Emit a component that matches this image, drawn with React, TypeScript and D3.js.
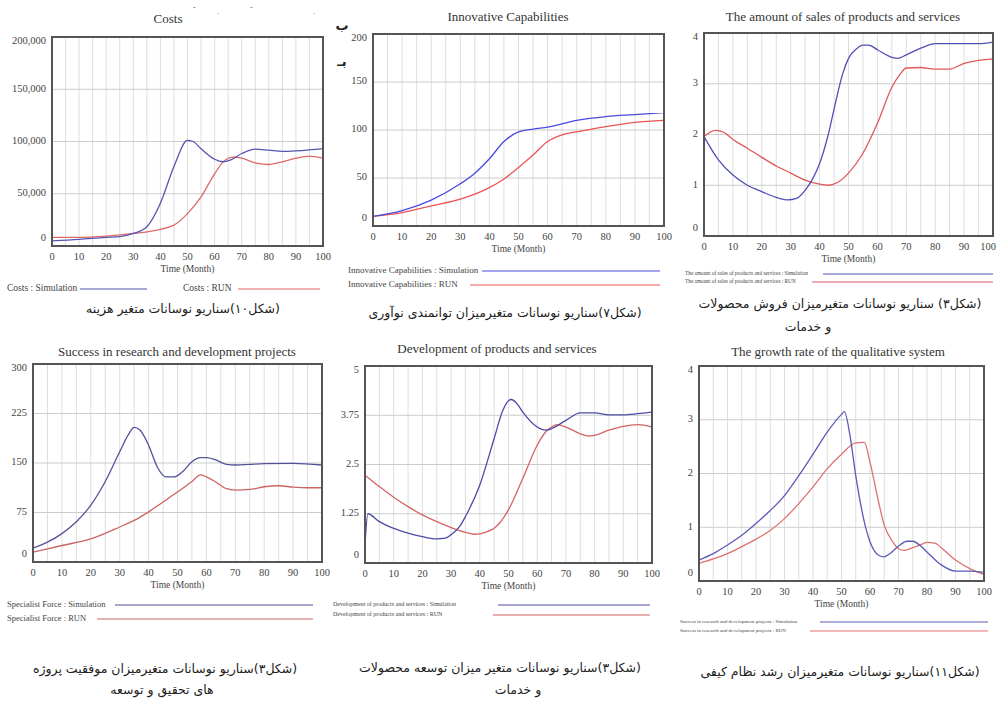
import * as d3 from 'd3';

type Pt = [number, number];

// ---- data (month, value) ----
const monthTicks = [0, 10, 20, 30, 40, 50, 60, 70, 80, 90, 100];

const costsTicks = [0, 50000, 100000, 150000, 200000];
const costsSim: Pt[] = [[0, 5000], [10, 6400], [20, 8300], [25, 9000], [30, 12000], [35, 18500], [40, 41000], [45, 76000], [50, 101000], [52, 100000], [55, 93000], [60, 83000], [63, 80600], [66, 82500], [70, 88500], [75, 92700], [80, 91700], [85, 90500], [90, 91000], [95, 92000], [100, 93300]];
const costsRun: Pt[] = [[0, 8300], [10, 8300], [20, 9500], [30, 12000], [40, 16000], [45, 20000], [50, 31000], [55, 47000], [60, 69000], [63, 80000], [67, 85000], [70, 84000], [75, 79600], [80, 78000], [85, 80500], [90, 84000], [95, 86000], [100, 84000]];

const innovTicks = [0, 50, 100, 150, 200];
const innovSim: Pt[] = [[0, 10], [10, 16], [20, 27], [30, 44], [35, 55], [40, 70], [45, 88], [50, 98], [55, 101], [60, 103], [70, 110], [80, 114], [90, 116], [100, 118]];
const innovRun: Pt[] = [[0, 10], [10, 14], [20, 21], [30, 28], [40, 40], [45, 49], [50, 61], [55, 74], [60, 88], [65, 95], [70, 98], [80, 103.5], [90, 108], [100, 110]];

const salesTicks = [0, 1, 2, 3, 4];
const salesSim: Pt[] = [[0, 1.96], [5, 1.5], [10, 1.2], [15, 1.0], [20, 0.875], [25, 0.76], [29, 0.71], [32, 0.74], [35, 0.9], [38, 1.17], [40, 1.43], [43, 2.0], [45, 2.5], [48, 3.2], [50, 3.5], [53, 3.7], [55, 3.76], [57, 3.76], [60, 3.67], [65, 3.52], [67, 3.5], [70, 3.57], [75, 3.7], [80, 3.79], [90, 3.79], [95, 3.79], [100, 3.82]];
const salesRun: Pt[] = [[0, 1.96], [4, 2.08], [7, 2.04], [10, 1.9], [15, 1.73], [20, 1.55], [25, 1.38], [30, 1.24], [35, 1.1], [40, 1.02], [43, 1.0], [46, 1.05], [50, 1.24], [55, 1.63], [60, 2.22], [65, 2.93], [68, 3.2], [70, 3.31], [75, 3.32], [80, 3.29], [85, 3.29], [90, 3.4], [95, 3.46], [100, 3.49]];

const successTicks = [0, 75, 150, 225, 300];
const successSim: Pt[] = [[0, 21], [5, 30], [10, 43], [15, 61], [20, 86], [25, 122], [30, 167], [33, 193], [35, 204], [37, 200], [40, 177], [43, 144], [46, 129], [49, 129], [52, 138], [55, 152], [58, 158], [60, 158], [63, 155], [67, 148], [70, 147], [75, 148], [80, 149], [90, 149.5], [100, 147]];
const successRun: Pt[] = [[0, 15], [10, 25], [20, 35], [30, 53], [35, 63], [40, 76], [45, 91], [50, 106], [55, 122], [58, 132], [60, 129], [63, 122], [67, 111], [70, 109], [75, 110], [80, 114], [85, 115.5], [90, 113.5], [95, 112.5], [100, 112.5]];

const devTicks = [0, 1.25, 2.5, 3.75, 5];
const devSim: Pt[] = [[0, 0.45], [1, 1.25], [5, 1.05], [10, 0.88], [15, 0.76], [20, 0.67], [25, 0.61], [28, 0.63], [30, 0.72], [33, 0.93], [35, 1.18], [40, 1.98], [45, 3.16], [48, 3.87], [50, 4.12], [51, 4.15], [53, 4.04], [55, 3.83], [60, 3.45], [63, 3.37], [65, 3.41], [70, 3.62], [75, 3.81], [80, 3.81], [85, 3.76], [90, 3.76], [95, 3.79], [100, 3.83]];
const devRun: Pt[] = [[0, 2.23], [5, 1.94], [10, 1.67], [15, 1.43], [20, 1.22], [25, 1.05], [30, 0.9], [35, 0.78], [38, 0.73], [42, 0.78], [45, 0.88], [50, 1.35], [55, 2.15], [60, 2.99], [63, 3.33], [65, 3.45], [67, 3.51], [70, 3.45], [75, 3.28], [78, 3.22], [80, 3.24], [85, 3.37], [90, 3.47], [95, 3.51], [100, 3.45]];

const growthTicks = [0, 1, 2, 3, 4];
const growthSim: Pt[] = [[0, 0.39], [5, 0.51], [10, 0.67], [15, 0.85], [20, 1.07], [25, 1.31], [30, 1.59], [35, 1.96], [40, 2.36], [45, 2.77], [50, 3.1], [51, 3.15], [53, 2.7], [55, 1.96], [58, 1.1], [60, 0.73], [63, 0.48], [65, 0.45], [67, 0.51], [70, 0.65], [73, 0.74], [75, 0.74], [78, 0.64], [80, 0.54], [85, 0.3], [90, 0.185], [95, 0.185], [100, 0.16]];
const growthRun: Pt[] = [[0, 0.33], [5, 0.41], [10, 0.51], [15, 0.64], [20, 0.78], [25, 0.94], [30, 1.16], [35, 1.44], [40, 1.75], [45, 2.09], [50, 2.36], [55, 2.57], [58, 2.58], [60, 2.21], [63, 1.47], [65, 1.04], [68, 0.73], [70, 0.6], [72, 0.57], [75, 0.62], [78, 0.68], [80, 0.72], [83, 0.7], [85, 0.62], [90, 0.39], [95, 0.23], [100, 0.12]];

// ---- panel layout ----
interface Legend { text: string; x: number; y: number; x1: number; x2: number; run: boolean }
interface Caption { text: string; x: number; y: number }
interface PanelCfg {
  title: string; titleX: number; titleY: number;
  left: number; top: number; right: number; bottom: number;
  yMax: number; yTicks: number[]; fmt: (v: number) => string;
  sim: Pt[]; run: Pt[]; blue: string; red: string;
  legendSize: number; legends: Legend[]; captions: Caption[];
}

const W = 997;
const H = 703;
const fmtComma = d3.format(',');
const fmtPlain = (v: number) => String(v);

const panels: PanelCfg[] = [
  {
    title: 'Costs', titleX: 168, titleY: 20, left: 52, top: 37, right: 323, bottom: 246,
    yMax: 200000, yTicks: costsTicks, fmt: fmtComma, sim: costsSim, run: costsRun,
    blue: '#5656b0', red: '#dd6a6a', legendSize: 9.5,
    legends: [
      { text: 'Costs : Simulation', x: 7, y: 289, x1: 80, x2: 147, run: false },
      { text: 'Costs : RUN', x: 183, y: 289, x1: 238, x2: 320, run: true },
    ],
    captions: [{ text: '(شکل۱۰)سناریو نوسانات متغیر  هزینه', x: 183, y: 309 }],
  },
  {
    title: 'Innovative Capabilities', titleX: 508, titleY: 18, left: 373, top: 34, right: 664, bottom: 226,
    yMax: 200, yTicks: innovTicks, fmt: fmtPlain, sim: innovSim, run: innovRun,
    blue: '#4a4ae0', red: '#ec5454', legendSize: 9,
    legends: [
      { text: 'Innovative Capabilities : Simulation', x: 348, y: 271, x1: 482, x2: 660, run: false },
      { text: 'Innovative Capabilities : RUN', x: 348, y: 285, x1: 470, x2: 660, run: true },
    ],
    captions: [{ text: '(شکل۷)سناریو نوسانات متغیرمیزان توانمندی نوآوری', x: 505, y: 313 }],
  },
  {
    title: 'The amount of sales of products and services', titleX: 843, titleY: 18, left: 704, top: 33, right: 993, bottom: 236,
    yMax: 4, yTicks: salesTicks, fmt: fmtPlain, sim: salesSim, run: salesRun,
    blue: '#5050b8', red: '#e05858', legendSize: 5.3,
    legends: [
      { text: 'The amount of sales of products and services : Simulation', x: 685, y: 274, x1: 823, x2: 993, run: false },
      { text: 'The amount of sales of products and services : RUN', x: 685, y: 282, x1: 812, x2: 993, run: true },
    ],
    captions: [
      { text: '(شکل۳) سناریو نوسانات متغیرمیزان فروش محصولات', x: 840, y: 304 },
      { text: 'و خدمات', x: 808, y: 327 },
    ],
  },
  {
    title: 'Success in research and development projects', titleX: 177, titleY: 353, left: 33, top: 364, right: 322, bottom: 562,
    yMax: 300, yTicks: successTicks, fmt: fmtPlain, sim: successSim, run: successRun,
    blue: '#52529a', red: '#cc6464', legendSize: 8.5,
    legends: [
      { text: 'Specialist Force : Simulation', x: 7, y: 605, x1: 115, x2: 313, run: false },
      { text: 'Specialist Force : RUN', x: 7, y: 619, x1: 97, x2: 313, run: true },
    ],
    captions: [
      { text: '(شکل۳)سناریو نوسانات متغیرمیزان موفقیت پروژه', x: 165, y: 669 },
      { text: 'های تحقیق و توسعه', x: 162, y: 690 },
    ],
  },
  {
    title: 'Development of products and services', titleX: 497, titleY: 350, left: 365, top: 366, right: 652, bottom: 563,
    yMax: 5, yTicks: devTicks, fmt: fmtPlain, sim: devSim, run: devRun,
    blue: '#4c4ca8', red: '#d26464', legendSize: 6,
    legends: [
      { text: 'Development of products and services : Simulation', x: 333, y: 605, x1: 498, x2: 650, run: false },
      { text: 'Development of products and services : RUN', x: 333, y: 615, x1: 493, x2: 650, run: true },
    ],
    captions: [
      { text: '(شکل۳)سناریو نوسانات متغیر میزان توسعه محصولات', x: 500, y: 668 },
      { text: 'و خدمات', x: 518, y: 690 },
    ],
  },
  {
    title: 'The growth rate of the qualitative system', titleX: 838, titleY: 353, left: 699, top: 366, right: 984, bottom: 581,
    yMax: 4, yTicks: growthTicks, fmt: fmtPlain, sim: growthSim, run: growthRun,
    blue: '#5a5ab8', red: '#e07070', legendSize: 5,
    legends: [
      { text: 'Success in research and development projects : Simulation', x: 680, y: 622, x1: 820, x2: 988, run: false },
      { text: 'Success in research and development projects : RUN', x: 680, y: 631, x1: 810, x2: 988, run: true },
    ],
    captions: [{ text: '(شکل۱۱)سناریو نوسانات متغیرمیزان رشد نظام کیفی', x: 840, y: 672 }],
  },
];

const serif = '"Liberation Serif", "DejaVu Serif", serif';
const persian = '"DejaVu Sans", "Noto Sans", sans-serif';

function Panel({ p }: { p: PanelCfg }) {
  const x = d3.scaleLinear().domain([0, 100]).range([p.left, p.right]);
  const y = d3.scaleLinear().domain([0, p.yMax]).range([p.bottom, p.top]);
  const line = d3.line<Pt>().x((d) => x(d[0])).y((d) => y(d[1])).curve(d3.curveMonotoneX);
  const vGrid = d3.range(5, 100, 5);
  const inner = p.yTicks.filter((t) => t > 0 && t < p.yMax);

  return (
    <g>
      <text x={p.titleX} y={p.titleY} textAnchor="middle" dominantBaseline="middle"
        fontFamily={serif} fontSize={13} fill="#333">{p.title}</text>
      {vGrid.map((m) => (
        <line key={'v' + m} x1={x(m)} x2={x(m)} y1={p.top} y2={p.bottom} stroke="#dedede" strokeWidth={1} />
      ))}
      {inner.map((t) => (
        <line key={'h' + t} x1={p.left} x2={p.right} y1={y(t)} y2={y(t)} stroke="#cccccc" strokeWidth={1} />
      ))}
      <path d={line(p.run) ?? ''} fill="none" stroke={p.red} strokeWidth={1.3} />
      <path d={line(p.sim) ?? ''} fill="none" stroke={p.blue} strokeWidth={1.3} />
      <rect x={p.left} y={p.top} width={p.right - p.left} height={p.bottom - p.top}
        fill="none" stroke="#555" strokeWidth={2} />
      {p.yTicks.map((t) => {
        const off = t === p.yMax ? 5 : t === 0 ? -7 : 0;
        return (
          <text key={'yl' + t} x={p.left - 6} y={y(t) + off} textAnchor="end" dominantBaseline="middle"
            fontFamily={serif} fontSize={10.5} fill="#444">{p.fmt(t)}</text>
        );
      })}
      {monthTicks.map((m) => {
        // keep the last label inside the page at the right edge
        const nearEdge = x(m) + 9 > W - 2;
        return (
          <text key={'xl' + m} x={nearEdge ? W - 1 : x(m)} y={p.bottom + 12}
            textAnchor={nearEdge ? 'end' : 'middle'} dominantBaseline="middle"
            fontFamily={serif} fontSize={10.5} fill="#444">{m}</text>
        );
      })}
      <text x={(p.left + p.right) / 2} y={p.bottom + 24} textAnchor="middle" dominantBaseline="middle"
        fontFamily={serif} fontSize={9.5} fill="#444">Time (Month)</text>
      {p.legends.map((l) => (
        <g key={l.text}>
          <text x={l.x} y={l.y} dominantBaseline="middle" fontFamily={serif} fontSize={p.legendSize} fill="#444">{l.text}</text>
          <line x1={l.x1} x2={l.x2} y1={l.y} y2={l.y} stroke={l.run ? p.red : p.blue} strokeWidth={1.2} />
        </g>
      ))}
      {p.captions.map((c) => (
        <text key={c.text} x={c.x} y={c.y} textAnchor="middle" dominantBaseline="middle" direction="rtl"
          fontFamily={persian} fontSize={12.5} fill="#222">{c.text}</text>
      ))}
    </g>
  );
}

export default function App() {
  return (
    <svg width={W} height={H} style={{ position: 'absolute', left: 0, top: 0, background: '#fff' }}>
      <rect width={W} height={H} fill="#fff" />
      {panels.map((p) => <Panel key={p.title} p={p} />)}
      {/* stray marks left over from the scanned page */}
      <text x={342} y={26} textAnchor="middle" dominantBaseline="middle" fontFamily={persian} fontSize={13} fontWeight="bold" fill="#222">ب</text>
      <text x={342} y={62} textAnchor="middle" dominantBaseline="middle" fontFamily={persian} fontSize={13} fontWeight="bold" fill="#222">بـ</text>
      <text x={193} y={10} fontFamily={serif} fontSize={8} fill="#666">-</text>
      <text x={217} y={14} fontFamily={serif} fontSize={8} fill="#666">.</text>
      <text x={250} y={10} fontFamily={serif} fontSize={8} fill="#666">-</text>
      <text x={313} y={14} fontFamily={serif} fontSize={8} fill="#666">.</text>
    </svg>
  );
}
